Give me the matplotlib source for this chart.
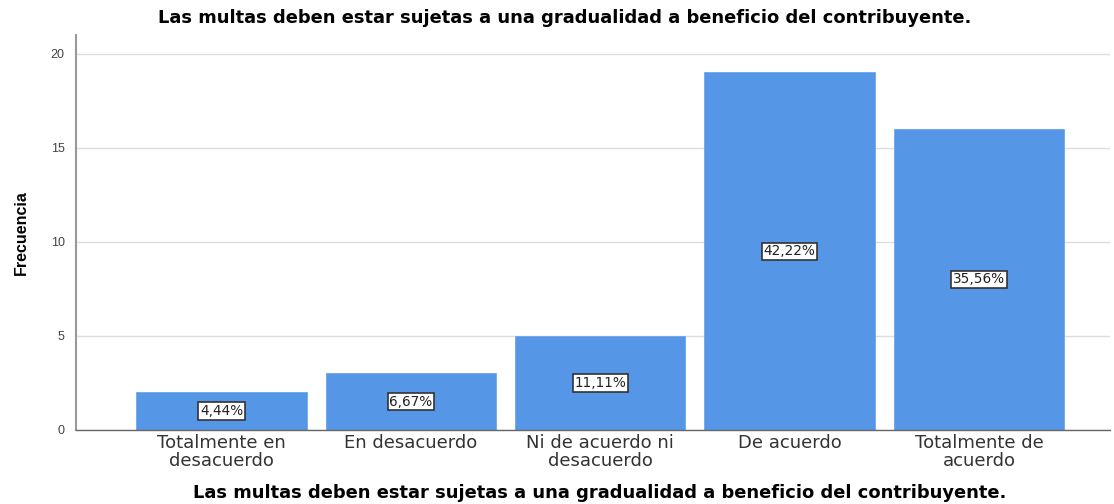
import matplotlib
matplotlib.use('Agg')
import matplotlib.pyplot as plt

# Datos de la gráfica
categorias = ['Totalmente en\ndesacuerdo', 'En desacuerdo', 'Ni de acuerdo ni\ndesacuerdo',
              'De acuerdo', 'Totalmente de\nacuerdo']
frecuencias = [2, 3, 5, 19, 16]
porcentajes = ['4,44%', '6,67%', '11,11%', '42,22%', '35,56%']

titulo = 'Las multas deben estar sujetas a una gradualidad a beneficio del contribuyente.'

plt.rcParams['font.family'] = ['Liberation Sans', 'DejaVu Sans']
ancho = ['DejaVu Sans']  # letra más ancha, como en el original

fig = plt.figure(figsize=(11.14, 5.04), dpi=100)
ax = fig.add_axes([0.068, 0.147, 0.928, 0.784])

x = range(len(categorias))
bars = ax.bar(x, frecuencias, width=0.9, color='#5596E6', edgecolor='#6fa6ea', linewidth=0.6, zorder=2)

# Etiquetas de porcentaje en el centro de cada barra
for xi, f, p in zip(x, frecuencias, porcentajes):
    ax.text(xi, f / 2, p, ha='center', va='center', fontsize=9.8, color='#222222', zorder=3,
            family=ancho,
            bbox=dict(boxstyle='square,pad=0.12', facecolor='white', edgecolor='#333333', linewidth=1.2))

ax.set_xlim(-0.77, 4.69)
ax.set_ylim(0, 21)
ax.set_yticks([0, 5, 10, 15, 20])
ax.set_xticks(list(x))
ax.set_xticklabels(categorias, fontsize=13, color='#333333', linespacing=1.0, family=ancho)
ax.tick_params(axis='x', length=0, pad=3)
ax.tick_params(axis='y', length=0, labelsize=9, colors='#444444', pad=8)

ax.yaxis.grid(True, color='#dddddd', linewidth=1, zorder=0)
ax.set_axisbelow(True)
for s in ['top', 'right']:
    ax.spines[s].set_visible(False)
ax.spines['left'].set_color('#999999')
ax.spines['left'].set_linewidth(1.5)
ax.spines['bottom'].set_color('#666666')
ax.spines['bottom'].set_linewidth(1)

ax.set_ylabel('Frecuencia', fontsize=11.5, fontweight='bold', labelpad=16)
fig.text(0.507, 0.965, titulo, ha='center', va='center', fontsize=12.9, fontweight='bold', family=ancho)
fig.text(0.538, 0.022, titulo, ha='center', va='center', fontsize=12.9, fontweight='bold', family=ancho)

plt.savefig('out.png', dpi=100)
